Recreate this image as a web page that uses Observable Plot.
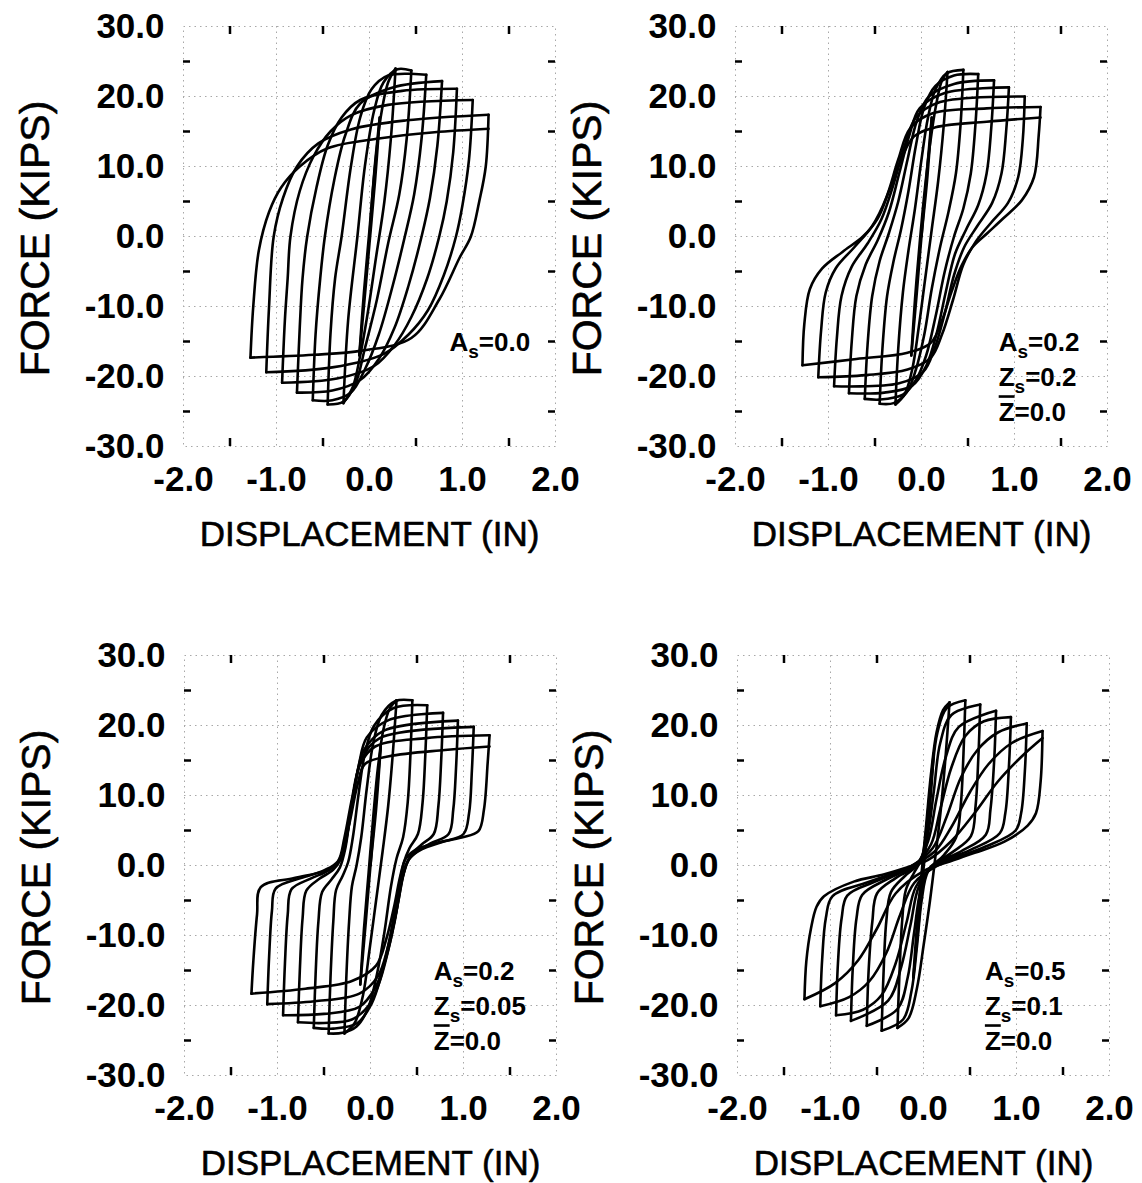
<!DOCTYPE html>
<html><head><meta charset="utf-8">
<script src="https://cdn.jsdelivr.net/npm/d3@7"></script>
<script src="https://cdn.jsdelivr.net/npm/@observablehq/plot@0.6"></script>
<style>
html,body{margin:0;padding:0;background:#fff;}
#root{position:relative;width:1142px;height:1183px;overflow:hidden;background:#fff;}
.panel{position:absolute;}
.panel svg{background:none !important;}
</style></head>
<body><div id="root"></div>
<script>
// ---------- axis values ----------
const xTicks = [-2, -1, 0, 1, 2];
const yTicks = [-30, -20, -10, 0, 10, 20, 30];
const xGrid = [-1, 0, 1];
const yGrid = [-20, -10, 0, 10, 20];
const xMinor = [-1.5, -0.5, 0.5, 1.5];
const yMinor = [-25, -15, -5, 5, 15, 25];
const xTitle = "DISPLACEMENT (IN)";
const yTitle = "FORCE (KIPS)";

// ---------- hysteresis branches (displacement in, force kips), x,y pairs ----------
// Panel 1: As=0.0
const loopsAs00 = [
  [0,0, 0.05,9, 0.11,17],
  [0.11,17, 0.06,8, 0,-1, -0.06,-10, -0.11,-17],
  [-0.11,-17, -0.06,-8, 0,1, 0.06,10, 0.12,17, 0.2,22, 0.28,24],
  [0.28,24, 0.23,14, 0.16,5, 0.07,-3, -0.02,-11, -0.1,-17, -0.18,-21.5, -0.28,-23.8],
  [-0.28,-23.8, -0.23,-12, -0.13,0, -0.05,10, 0.05,18, 0.15,22, 0.3,23.9, 0.45,23.7],
  [0.45,23.7, 0.4,14, 0.32,6, 0.2,-1, 0.08,-9, -0.05,-16, -0.15,-21, -0.28,-23.6, -0.45,-24],
  [-0.45,-24, -0.42,-14, -0.37,-6, -0.3,0, -0.2,10, -0.1,17, 0.02,21, 0.2,23, 0.61,23.1],
  [0.61,23.1, 0.56,14, 0.48,6, 0.38,0, 0.25,-7, 0.1,-14, -0.05,-19, -0.2,-22.3, -0.4,-23.4, -0.61,-23.4],
  [-0.61,-23.4, -0.58,-14, -0.53,-6, -0.48,0, -0.38,8, -0.26,14.5, -0.1,19, 0.25,21.3, 0.78,22.2],
  [0.78,22.2, 0.73,13, 0.65,5.5, 0.56,0, 0.42,-7, 0.27,-13, 0.1,-17.5, -0.1,-20.5, -0.4,-22, -0.78,-22.3],
  [-0.78,-22.3, -0.75,-13, -0.72,-6, -0.67,0, -0.57,7, -0.45,13, -0.3,17, -0.1,19.5, 0.35,20.8, 0.94,21.1],
  [0.94,21.1, 0.9,12, 0.83,5, 0.75,0, 0.62,-6, 0.45,-11.5, 0.27,-15.5, 0.05,-18.5, -0.35,-20.3, -0.94,-20.9],
  [-0.94,-20.9, -0.91,-12, -0.88,-6, -0.85,0, -0.75,6.5, -0.6,11.5, -0.42,15, -0.2,17.3, 0.2,18.8, 1.11,19.5],
  [1.11,19.5, 1.07,11, 1.0,4.5, 0.93,0, 0.8,-5.5, 0.63,-10.5, 0.42,-14, 0.15,-16.8, -0.4,-18.7, -1.11,-19.4],
  [-1.11,-19.4, -1.08,-10, -1.03,0, -0.93,5.5, -0.78,10, -0.55,13.3, -0.2,15.3, 0.4,16.6, 1.28,17.4],
  [1.28,17.4, 1.25,10, 1.18,5, 1.09,0, 0.97,-3, 0.75,-9, 0.45,-14.5, -0.08,-16.3, -0.6,-16.9, -1.28,-17.3],
  [-1.28,-17.3, -1.25,-10, -1.19,-2, -1.08,3.5, -0.95,7, -0.75,10, -0.45,12.6, 0.1,14, 0.7,14.9, 1.28,15.4]
];

// Panel 2: As=0.2, Zs=0.2
const loopsAs02Zs02 = [
  [0,0, 0.05,8, 0.11,17],
  [0.11,17, 0.06,8, 0,0, -0.05,-8, -0.11,-17],
  [-0.11,-17, -0.07,-9, -0.02,-1, 0.03,6, 0.09,13, 0.16,19, 0.22,22.3, 0.28,23.5],
  [0.28,23.5, 0.24,16, 0.18,8, 0.11,1, 0.04,-6, -0.03,-13, -0.1,-19, -0.18,-22.5, -0.28,-24],
  [-0.28,-24, -0.25,-16, -0.2,-8, -0.14,-2, -0.07,4, 0,11, 0.07,17, 0.15,21, 0.27,23.3, 0.45,23.8],
  [0.45,23.8, 0.42,16, 0.37,9, 0.29,3.5, 0.2,-1.5, 0.11,-7.5, 0.03,-14, -0.06,-19, -0.16,-22.3, -0.3,-23.8, -0.45,-23.9],
  [-0.45,-23.9, -0.42,-16, -0.37,-8.5, -0.3,-3.5, -0.22,1, -0.14,6.5, -0.06,13, 0.03,18.5, 0.15,21.5, 0.35,23, 0.61,23.2],
  [0.61,23.2, 0.58,16, 0.53,9, 0.45,4, 0.35,0, 0.25,-5, 0.15,-11.5, 0.05,-17, -0.06,-20.5, -0.2,-22.6, -0.45,-23.3, -0.61,-23.2],
  [-0.61,-23.2, -0.58,-15.5, -0.53,-8.5, -0.45,-3.5, -0.35,0.5, -0.25,5, -0.15,11, -0.05,16.5, 0.08,20, 0.35,21.8, 0.78,22.3],
  [0.78,22.3, 0.75,15.5, 0.7,9, 0.61,4.5, 0.48,1, 0.36,-2.5, 0.26,-8, 0.16,-14, 0.05,-18.5, -0.1,-21.3, -0.4,-22.3, -0.78,-22.4],
  [-0.78,-22.4, -0.75,-15, -0.7,-8.5, -0.6,-4, -0.47,-0.5, -0.35,3.5, -0.24,9, -0.13,14.5, -0.02,18.3, 0.25,20.5, 0.94,21.3],
  [0.94,21.3, 0.91,15, 0.86,9, 0.76,4.8, 0.6,1.5, 0.46,-1.5, 0.35,-5.5, 0.25,-11, 0.14,-16, 0.02,-19.3, -0.25,-21, -0.94,-21.4],
  [-0.94,-21.4, -0.91,-14.5, -0.86,-8.5, -0.75,-4.3, -0.58,-1, -0.43,2.5, -0.3,7.5, -0.18,13, -0.06,17, 0.2,19.2, 1.11,20],
  [1.11,20, 1.09,14, 1.04,8.5, 0.93,4.8, 0.75,2, 0.58,-0.8, 0.45,-4, 0.34,-9, 0.22,-14, 0.1,-17.3, -0.15,-19, -0.6,-19.8, -1.11,-20.1],
  [-1.11,-20.1, -1.08,-13.5, -1.03,-8, -0.92,-4.5, -0.72,-1.5, -0.53,1.5, -0.38,5.5, -0.25,11, -0.12,15.5, 0.12,17.6, 0.7,18.3, 1.28,18.5],
  [1.28,18.5, 1.26,14.4, 1.21,8.5, 1.08,5.2, 0.88,2.6, 0.71,0.5, 0.55,-1.5, 0.43,-4.2, 0.32,-8, 0.22,-12, 0.1,-15.2, -0.15,-16.6, -0.7,-17.5, -1.28,-18.4],
  [-1.28,-18.4, -1.26,-12.5, -1.2,-7.5, -1.07,-4.6, -0.85,-2.2, -0.63,0, -0.47,2.6, -0.35,6.5, -0.22,11, -0.08,14.3, 0.15,15.6, 0.7,16.4, 1.28,17]
];

// Panel 3: As=0.2, Zs=0.05
const loopsAs02Zs005 = [
  [0,0, 0.05,8, 0.11,17],
  [0.11,17, 0.06,8, 0,0, -0.05,-8, -0.11,-17],
  [-0.11,-17, -0.07,-9, -0.02,-1, 0.03,7, 0.08,14, 0.14,19.5, 0.21,22.5, 0.28,23.6],
  [0.28,23.6, 0.24,16, 0.19,8.5, 0.13,2, 0.06,-5, -0.01,-12, -0.08,-18.5, -0.17,-22.5, -0.28,-24],
  [-0.28,-24, -0.26,-16, -0.23,-8, -0.2,-3, -0.15,0, -0.1,4, -0.04,11, 0.03,17.5, 0.12,21.5, 0.27,23.5, 0.45,23.6],
  [0.45,23.6, 0.43,16, 0.4,9, 0.35,4, 0.28,1, 0.22,-3, 0.15,-9.5, 0.07,-15.5, -0.03,-20.5, -0.15,-23, -0.3,-23.9, -0.45,-24],
  [-0.45,-24, -0.43,-16, -0.4,-8, -0.37,-3.5, -0.3,-1.5, -0.24,0.5, -0.19,4, -0.13,10, -0.06,16, 0.04,20, 0.25,22.5, 0.61,22.9],
  [0.61,22.9, 0.59,16, 0.56,9, 0.51,4.5, 0.42,2.5, 0.36,0.5, 0.3,-3.5, 0.22,-9.5, 0.12,-15.5, 0.01,-19.8, -0.14,-22.5, -0.4,-23.3, -0.61,-23.2],
  [-0.61,-23.2, -0.59,-15.5, -0.56,-8, -0.52,-3.8, -0.42,-2, -0.33,-0.3, -0.27,2.5, -0.21,8, -0.13,14, -0.04,18.3, 0.2,20.8, 0.78,21.8],
  [0.78,21.8, 0.76,15, 0.73,8.5, 0.68,4.5, 0.55,3, 0.44,1.6, 0.37,-0.5, 0.3,-5, 0.21,-11, 0.1,-16.5, -0.02,-20, -0.2,-22, -0.5,-22.5, -0.78,-22.4],
  [-0.78,-22.4, -0.76,-15, -0.73,-7.5, -0.69,-3.6, -0.55,-1.9, -0.4,-0.6, -0.3,1.5, -0.23,6, -0.16,12, -0.07,16.5, 0.15,19.3, 0.94,20.7],
  [0.94,20.7, 0.92,14, 0.89,8, 0.84,4.5, 0.65,3.2, 0.5,2, 0.4,0.6, 0.33,-2.5, 0.26,-8, 0.16,-13.5, 0.05,-17.5, -0.12,-20.2, -0.5,-21.2, -0.94,-21.4],
  [-0.94,-21.4, -0.92,-14, -0.89,-7, -0.85,-3.4, -0.65,-1.9, -0.45,-0.7, -0.33,0.8, -0.26,4.5, -0.18,10.5, -0.09,15.3, 0.1,18.2, 1.11,19.8],
  [1.11,19.8, 1.09,13.5, 1.06,7.5, 1.0,4.5, 0.78,3.4, 0.55,2.3, 0.42,1, 0.35,-1.5, 0.28,-6.5, 0.19,-11.5, 0.08,-15.8, -0.12,-18.3, -0.6,-19.4, -1.11,-19.8],
  [-1.11,-19.8, -1.09,-13, -1.06,-6.5, -1.02,-3.3, -0.75,-1.8, -0.5,-0.7, -0.35,0.6, -0.28,4, -0.2,9.5, -0.11,14.5, 0.05,17, 0.6,18.2, 1.28,18.6],
  [1.28,18.6, 1.26,14.7, 1.22,8, 1.16,4.9, 0.98,4, 0.7,3.2, 0.48,2.2, 0.38,1, 0.32,-1.5, 0.26,-5.5, 0.17,-10.5, 0.06,-14.3, -0.2,-16.5, -0.7,-17.6, -1.28,-18.3],
  [-1.28,-18.3, -1.26,-13.7, -1.22,-7, -1.18,-3.1, -0.82,-1.8, -0.5,-0.8, -0.36,0.3, -0.29,2.5, -0.22,6.4, -0.14,11.5, -0.06,14.5, 0.2,15.6, 0.8,16.5, 1.28,17]
];

// Panel 4: As=0.5, Zs=0.1
const loopsAs05Zs01 = [
  [0,0, 0.05,8, 0.11,16],
  [0.11,16, 0.06,7, 0,-0.5, -0.05,-8, -0.11,-16],
  [-0.11,-16, -0.07,-8.5, -0.02,-1, 0.03,6, 0.08,13, 0.14,19, 0.21,22.2, 0.28,23.3],
  [0.28,23.3, 0.24,16, 0.19,8.5, 0.13,1.5, 0.07,-5, 0,-11.5, -0.07,-17.5, -0.16,-21.8, -0.28,-23.2],
  [-0.28,-23.2, -0.26,-16, -0.23,-8, -0.19,-3.5, -0.1,-1, -0.02,1, 0.04,6, 0.09,13, 0.15,19, 0.25,22.5, 0.45,23.6],
  [0.45,23.6, 0.43,16, 0.4,8.5, 0.35,4, 0.22,1.5, 0.05,-0.8, -0.02,-5, -0.07,-11.5, -0.13,-18, -0.22,-22, -0.45,-23.6],
  [-0.45,-23.6, -0.43,-15.5, -0.4,-8, -0.35,-3.8, -0.2,-1.5, -0.05,0.3, 0.04,4, 0.11,10.5, 0.18,17.5, 0.3,21.5, 0.61,23],
  [0.61,23, 0.59,15.5, 0.56,8.5, 0.51,4.2, 0.3,1.8, 0.07,-0.3, -0.03,-3.5, -0.1,-9.5, -0.17,-16, -0.28,-20.5, -0.61,-22.9],
  [-0.61,-22.9, -0.59,-15, -0.55,-8, -0.5,-4, -0.3,-1.8, -0.08,0, 0.05,3.5, 0.14,9.5, 0.24,15.5, 0.38,19.8, 0.78,22.1],
  [0.78,22.1, 0.76,15, 0.72,8, 0.67,4.4, 0.4,2, 0.1,0, -0.05,-3, -0.14,-8.5, -0.24,-14.5, -0.38,-19.3, -0.78,-22.2],
  [-0.78,-22.2, -0.76,-14.5, -0.72,-7.5, -0.66,-4.2, -0.4,-2, -0.1,0, 0.08,3, 0.18,8, 0.3,14, 0.45,18.5, 0.65,20.6, 0.94,21.2],
  [0.94,21.2, 0.92,14.5, 0.88,7.5, 0.82,4.6, 0.5,2.2, 0.12,0, -0.08,-3, -0.18,-8, -0.3,-14, -0.45,-18.5, -0.65,-20.6, -0.94,-21.4],
  [-0.94,-21.4, -0.92,-14, -0.88,-7.5, -0.82,-4.3, -0.5,-2.2, -0.12,0, 0.1,2.5, 0.25,7, 0.4,12.5, 0.58,16.5, 0.8,19, 1.11,20.3],
  [1.11,20.3, 1.09,13.5, 1.05,7.5, 0.99,5, 0.65,2.6, 0.15,0, -0.1,-2.5, -0.25,-7, -0.4,-12.5, -0.58,-16.5, -0.8,-18.8, -1.11,-20.1],
  [-1.11,-20.1, -1.09,-13.5, -1.05,-7.5, -0.98,-4.4, -0.6,-2.4, -0.15,-0.2, 0.12,2, 0.3,5.5, 0.5,10.5, 0.7,14.5, 0.95,17.5, 1.28,19.2],
  [1.28,19.2, 1.26,12.1, 1.21,7.5, 1.12,5.7, 0.87,3.4, 0.55,1.8, 0.22,0.3, 0,-0.8, -0.3,-4, -0.5,-9, -0.7,-13.5, -0.95,-16.8, -1.28,-19.1],
  [-1.28,-19.1, -1.26,-13.7, -1.21,-9, -1.15,-5.9, -1.07,-4.4, -0.75,-2.3, -0.43,-1.3, -0.18,-0.3, 0.05,0.8, 0.3,3.5, 0.55,7.5, 0.8,12, 1.05,15.5, 1.28,18.2]
];

// ---------- parameter notes ----------
const notes1 = ["As=0.0"];
const notes2 = ["As=0.2", "Zs=0.2", "Z=0.0"];
const notes3 = ["As=0.2", "Zs=0.05", "Z=0.0"];
const notes4 = ["As=0.5", "Zs=0.1", "Z=0.0"];
const noteRowsY = [-15.2, -20.2, -25.2];   // force level of each note row
const noteStartX = [0.86, 0.83, 0.68, 0.66]; // displacement where notes start

// ---------- layout ----------
const IW = 372, IH = 420, ML = 175, MT = 26, MR = 33, MB = 112;
const frames = [[182.5, 26], [735, 26], [184, 655], [737, 655]];
const FONT = "'Liberation Sans', Arial, Helvetica, sans-serif";
const fmt = d => d.toFixed(1);

function toRows(branches) {
  const rows = [];
  branches.forEach((arr, b) => {
    for (let j = 0; j < arr.length; j += 2) rows.push({x: arr[j], y: arr[j + 1], b});
  });
  return rows;
}

const NS = "http://www.w3.org/2000/svg";
function richNotes(svg) {
  svg.querySelectorAll("text").forEach(t => {
    const s = t.textContent;
    let m;
    if ((m = /^([AZ])s=(.+)$/.exec(s))) {
      t.textContent = "";
      const a = document.createElementNS(NS, "tspan"); a.textContent = m[1];
      const b = document.createElementNS(NS, "tspan"); b.textContent = "s";
      b.setAttribute("font-size", "19"); b.setAttribute("dy", "7");
      const c = document.createElementNS(NS, "tspan"); c.textContent = "=" + m[2];
      c.setAttribute("dy", "-7");
      t.append(a, b, c);
    } else if ((m = /^Z=(.+)$/.exec(s))) {
      t.textContent = "";
      const a = document.createElementNS(NS, "tspan"); a.textContent = "Z";
      a.setAttribute("text-decoration", "overline");
      a.style.textDecoration = "overline";
      const c = document.createElementNS(NS, "tspan"); c.textContent = "=" + m[1];
      t.append(a, c);
    }
  });
}

function panel(branches, notes, nx) {
  const rows = toRows(branches);
  const idx = notes.map((_, i) => i);
  const dotted = {stroke: "#a8a8a8", strokeOpacity: 1, strokeDasharray: "1.5,4", strokeWidth: 1};
  return Plot.plot({
    width: ML + IW + MR, height: MT + IH + MB,
    marginLeft: ML, marginRight: MR, marginTop: MT, marginBottom: MB,
    x: {domain: [-2, 2]},
    y: {domain: [-30, 30]},
    style: {fontFamily: FONT, background: "none", color: "black", overflow: "visible"},
    marks: [
      Plot.gridX(xGrid, dotted),
      Plot.gridY(yGrid, dotted),
      Plot.frame(dotted),
      Plot.tickX(xMinor, {x: d => d, insetBottom: IH - 8, stroke: "black", strokeWidth: 2.5}),
      Plot.tickX(xMinor, {x: d => d, insetTop: IH - 8, stroke: "black", strokeWidth: 2.5}),
      Plot.tickY(yMinor, {y: d => d, insetRight: IW - 7, stroke: "black", strokeWidth: 2.5}),
      Plot.tickY(yMinor, {y: d => d, insetLeft: IW - 7, stroke: "black", strokeWidth: 2.5}),
      Plot.axisX(xTicks, {anchor: "bottom", tickSize: 0, tickPadding: 20, tickFormat: fmt,
        fontSize: 35, fontWeight: "bold", label: null}),
      Plot.axisY(yTicks, {anchor: "left", tickSize: 0, tickPadding: 19, tickFormat: fmt,
        fontSize: 35, fontWeight: "bold", label: null}),
      Plot.line(rows, {x: "x", y: "y", z: "b", curve: "catmull-rom", stroke: "black",
        strokeWidth: 2.6, strokeLinejoin: "round", strokeLinecap: "round"}),
      Plot.text(idx, {x: () => nx, y: i => noteRowsY[i], text: i => notes[i], textAnchor: "start",
        fontSize: 26, fontWeight: "bold", fill: "black"}),
      Plot.text([xTitle], {frameAnchor: "bottom", textAnchor: "middle", lineAnchor: "middle", dy: 88,
        fontSize: 35, fill: "black", stroke: "black", strokeWidth: 0.6}),
      Plot.text([yTitle], {frameAnchor: "left", textAnchor: "middle", lineAnchor: "middle", dx: -148, dy: 2,
        rotate: -90, fontSize: 41, fill: "black", stroke: "black", strokeWidth: 0.6})
    ]
  });
}

const root = document.getElementById("root");
const sets = [[loopsAs00, notes1], [loopsAs02Zs02, notes2], [loopsAs02Zs005, notes3], [loopsAs05Zs01, notes4]];
sets.forEach(([br, notes], k) => {
  const svg = panel(br, notes, noteStartX[k]);
  richNotes(svg);
  const div = document.createElement("div");
  div.className = "panel";
  div.style.left = (frames[k][0] - ML) + "px";
  div.style.top = (frames[k][1] - MT) + "px";
  div.appendChild(svg);
  root.appendChild(div);
});
</script>
</body></html>
